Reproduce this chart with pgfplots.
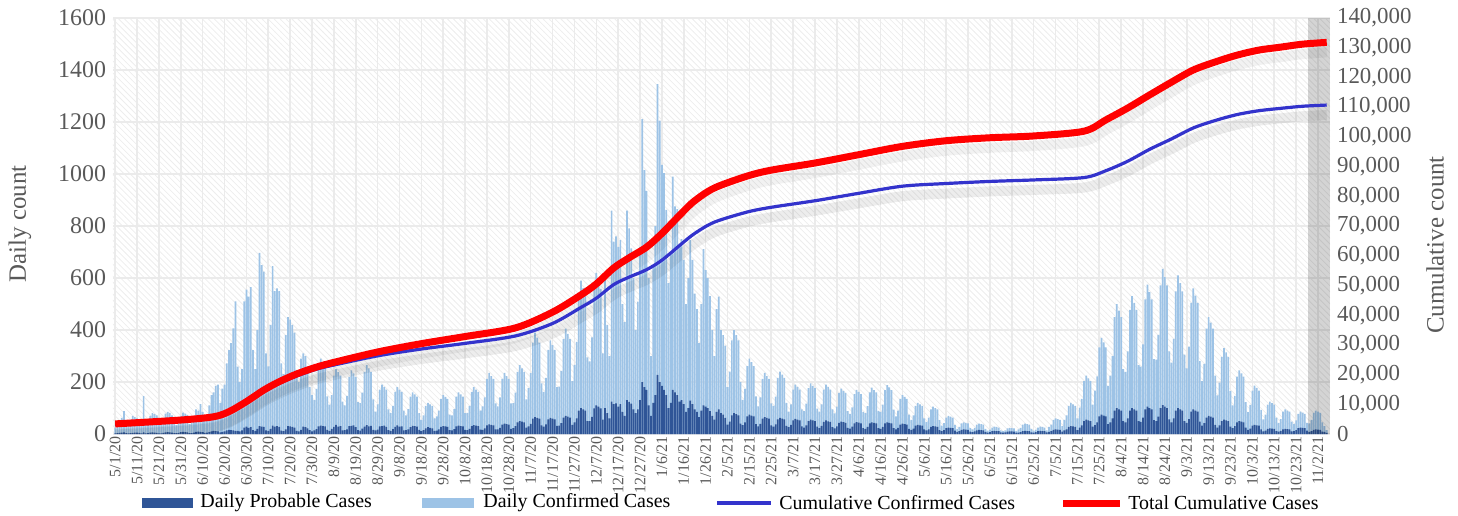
\documentclass[border=0pt]{standalone}
\usepackage{pgfplots}
\pgfplotsset{compat=1.18}
\usepackage{pgfplotstable}
\usetikzlibrary{patterns}
\usepackage{fontspec}
\setmainfont{Liberation Serif}
\definecolor{lightbar}{HTML}{9DC3E6}
\definecolor{darkbar}{HTML}{2F5597}
\definecolor{blueline}{HTML}{3333CC}
\definecolor{redline}{HTML}{FF0000}
\definecolor{tickgray}{HTML}{595959}
\definecolor{gridc}{HTML}{EBEBEB}

\pgfplotstableread[row sep=\\]{c p\\
25 2\\ 40 3\\ 50 4\\ 62 5\\ 88 6\\ 45 3\\ 35 2\\
55 3\\ 70 4\\ 65 5\\ 60 5\\ 50 4\\ 35 2\\ 146 6\\
35 2\\ 50 3\\ 70 5\\ 80 6\\ 76 5\\ 72 4\\ 40 2\\
36 2\\ 55 4\\ 78 6\\ 85 7\\ 81 6\\ 72 5\\ 40 3\\
34 3\\ 50 4\\ 70 7\\ 82 8\\ 78 7\\ 74 6\\ 38 3\\
45 3\\ 60 5\\ 95 8\\ 90 9\\ 115 8\\ 85 7\\ 50 4\\
70 5\\ 110 7\\ 150 10\\ 160 12\\ 185 11\\ 190 10\\ 120 6\\
175 8\\ 190 10\\ 272 14\\ 323 16\\ 350 15\\ 406 14\\ 510 12\\
259 12\\ 200 10\\ 250 14\\ 510 25\\ 555 28\\ 528 24\\ 565 26\\
323 15\\ 250 12\\ 400 20\\ 697 30\\ 650 28\\ 625 27\\ 310 14\\
260 12\\ 420 20\\ 646 32\\ 550 28\\ 560 30\\ 550 27\\ 272 13\\
230 11\\ 380 18\\ 450 30\\ 440 29\\ 420 27\\ 390 25\\ 246 12\\
200 10\\ 290 16\\ 310 28\\ 300 26\\ 260 22\\ 180 15\\ 150 10\\
130 14\\ 174 19\\ 261 29\\ 290 32\\ 276 30\\ 261 29\\ 145 16\\
113 12\\ 150 20\\ 225 27\\ 250 35\\ 238 28\\ 225 30\\ 125 14\\
110 15\\ 147 18\\ 220 30\\ 245 31\\ 233 33\\ 220 26\\ 123 15\\
119 13\\ 159 21\\ 239 28\\ 265 34\\ 252 29\\ 239 31\\ 133 16\\
86 14\\ 114 17\\ 171 29\\ 190 30\\ 181 32\\ 171 27\\ 95 15\\
81 12\\ 108 19\\ 162 27\\ 180 33\\ 171 28\\ 162 29\\ 90 14\\
72 15\\ 96 18\\ 144 26\\ 160 31\\ 152 30\\ 144 28\\ 80 16\\
54 11\\ 72 15\\ 108 22\\ 120 26\\ 114 24\\ 108 22\\ 60 12\\
68 13\\ 90 18\\ 135 27\\ 150 30\\ 143 29\\ 135 27\\ 75 15\\
72 14\\ 96 19\\ 144 29\\ 160 32\\ 152 30\\ 144 29\\ 80 16\\
81 15\\ 108 20\\ 162 30\\ 180 34\\ 171 32\\ 162 30\\ 90 17\\
106 16\\ 141 22\\ 212 33\\ 235 37\\ 223 35\\ 212 33\\ 118 18\\
106 18\\ 141 24\\ 212 36\\ 235 40\\ 223 38\\ 212 36\\ 118 20\\
119 23\\ 159 30\\ 239 45\\ 265 50\\ 252 48\\ 239 45\\ 133 25\\
176 29\\ 234 39\\ 351 59\\ 390 65\\ 371 62\\ 351 59\\ 195 33\\
162 28\\ 216 37\\ 324 56\\ 360 62\\ 342 59\\ 324 56\\ 180 31\\
182 32\\ 243 42\\ 365 63\\ 405 70\\ 385 67\\ 365 63\\ 203 35\\
266 45\\ 354 60\\ 531 90\\ 590 100\\ 561 95\\ 531 90\\ 295 50\\
279 50\\ 372 66\\ 558 99\\ 620 110\\ 589 105\\ 558 99\\ 310 55\\
605 100\\ 420 80\\ 300 60\\ 859 125\\ 740 115\\ 760 118\\ 720 105\\
746 115\\ 500 85\\ 430 70\\ 859 130\\ 791 124\\ 714 117\\ 600 95\\
400 80\\ 509 95\\ 720 130\\ 1211 200\\ 1015 180\\ 935 170\\ 600 110\\
300 70\\ 650 120\\ 800 150\\ 1346 227\\ 1205 200\\ 1035 185\\ 1003 170\\
862 150\\ 580 100\\ 700 120\\ 990 170\\ 875 160\\ 865 150\\ 720 125\\
750 130\\ 670 115\\ 500 85\\ 600 100\\ 746 128\\ 670 115\\ 540 95\\
480 85\\ 350 65\\ 500 90\\ 711 110\\ 630 105\\ 600 100\\ 530 88\\
400 70\\ 300 55\\ 480 85\\ 528 95\\ 400 80\\ 380 75\\ 340 62\\
180 36\\ 240 48\\ 360 72\\ 400 80\\ 380 76\\ 360 72\\ 200 40\\
131 34\\ 174 45\\ 261 68\\ 290 75\\ 276 71\\ 261 68\\ 145 38\\
106 29\\ 141 39\\ 212 59\\ 235 65\\ 223 62\\ 212 59\\ 118 33\\
108 28\\ 144 37\\ 216 56\\ 240 62\\ 228 59\\ 216 56\\ 120 31\\
86 26\\ 114 35\\ 171 52\\ 190 58\\ 181 55\\ 171 52\\ 95 29\\
88 25\\ 117 33\\ 176 50\\ 195 55\\ 185 52\\ 176 50\\ 98 28\\
86 23\\ 114 31\\ 171 47\\ 190 52\\ 181 49\\ 171 47\\ 95 26\\
79 22\\ 105 29\\ 158 43\\ 175 48\\ 166 46\\ 158 43\\ 88 24\\
77 21\\ 102 28\\ 153 41\\ 170 46\\ 162 44\\ 153 41\\ 85 23\\
80 20\\ 107 27\\ 160 41\\ 178 45\\ 169 43\\ 160 41\\ 89 23\\
85 20\\ 113 27\\ 169 41\\ 188 45\\ 179 43\\ 169 41\\ 94 23\\
68 18\\ 90 24\\ 135 36\\ 150 40\\ 143 38\\ 135 36\\ 75 20\\
54 16\\ 72 21\\ 108 32\\ 120 35\\ 114 33\\ 108 32\\ 60 18\\
47 14\\ 63 18\\ 95 27\\ 105 30\\ 100 29\\ 95 27\\ 53 15\\
32 11\\ 42 15\\ 63 23\\ 70 25\\ 67 24\\ 63 23\\ 35 13\\
20 8\\ 27 11\\ 41 16\\ 45 18\\ 43 17\\ 41 16\\ 23 9\\
18 7\\ 24 10\\ 36 14\\ 40 16\\ 38 15\\ 36 14\\ 20 8\\
13 5\\ 17 7\\ 25 11\\ 28 12\\ 27 11\\ 25 11\\ 14 6\\
11 5\\ 14 6\\ 22 9\\ 24 10\\ 23 10\\ 22 9\\ 12 5\\
18 5\\ 24 7\\ 36 11\\ 40 12\\ 38 11\\ 36 11\\ 20 6\\
13 5\\ 17 7\\ 25 11\\ 28 12\\ 27 11\\ 25 11\\ 14 6\\
27 8\\ 36 11\\ 54 16\\ 60 18\\ 57 17\\ 54 16\\ 30 9\\
54 14\\ 72 18\\ 108 27\\ 120 30\\ 114 29\\ 108 27\\ 60 15\\
101 25\\ 135 33\\ 203 50\\ 225 55\\ 214 52\\ 203 50\\ 113 28\\
167 34\\ 222 45\\ 333 68\\ 370 75\\ 352 71\\ 333 68\\ 185 38\\
225 45\\ 300 60\\ 450 90\\ 500 100\\ 475 95\\ 450 90\\ 250 50\\
239 45\\ 318 60\\ 477 90\\ 530 100\\ 504 95\\ 477 90\\ 265 50\\
259 47\\ 345 63\\ 518 95\\ 575 105\\ 546 100\\ 518 95\\ 288 53\\
286 50\\ 381 67\\ 572 100\\ 635 111\\ 603 105\\ 572 100\\ 318 56\\
275 45\\ 366 60\\ 549 90\\ 610 100\\ 580 95\\ 549 90\\ 305 50\\
252 43\\ 336 57\\ 504 86\\ 560 95\\ 532 90\\ 504 86\\ 280 48\\
203 32\\ 270 42\\ 405 63\\ 450 70\\ 428 67\\ 405 63\\ 225 35\\
149 25\\ 198 33\\ 297 50\\ 330 55\\ 314 52\\ 297 50\\ 165 28\\
110 23\\ 147 30\\ 221 45\\ 245 50\\ 233 48\\ 221 45\\ 123 25\\
84 16\\ 112 21\\ 167 32\\ 186 35\\ 177 33\\ 167 32\\ 93 18\\
56 10\\ 75 13\\ 113 20\\ 125 22\\ 119 21\\ 113 20\\ 63 11\\
43 9\\ 57 12\\ 86 18\\ 95 20\\ 90 19\\ 86 18\\ 48 10\\
39 11\\ 52 15\\ 77 23\\ 86 25\\ 82 24\\ 77 23\\ 43 13\\
41 8\\ 54 11\\ 81 16\\ 90 18\\ 86 17\\ 81 16\\ 45 9\\
30 8\\ 15 4\\
}\daily

\pgfplotstableread[row sep=\\]{d red blue\\
0 3400 3100\\ 30 4700 4400\\ 45 5800 5500\\ 52 7500 7200\\ 60 10900 10500\\
68 14800 14300\\ 75 17600 17000\\ 83 20200 19500\\ 92 22500 21800\\ 100 24100 23200\\
120 27600 26300\\ 140 30400 28600\\ 160 32800 30500\\ 183 35700 33000\\ 200 41000 37200\\
213 46800 42600\\ 220 50500 45700\\ 228 55900 50300\\ 235 59300 52800\\ 243 62900 55300\\
250 67500 58500\\ 259 74300 64000\\ 265 78500 67500\\ 274 82800 71300\\ 289 86800 74700\\
300 88800 76300\\ 320 91200 78500\\ 340 94000 81000\\ 360 96800 83400\\ 380 98700 84300\\
400 99700 85000\\ 420 100300 85500\\ 443 101900 86300\\ 453 105700 88600\\ 463 109700 91800\\
473 114100 95800\\ 483 118400 99300\\ 493 122500 103000\\ 503 125200 105500\\ 513 127500 107500\\
523 129200 108800\\ 533 130200 109600\\ 543 131200 110300\\ 554 131800 110700\\
}\cumul

\begin{document}
\begin{tikzpicture}
\pgfplotsset{
  every axis/.append style={
    scale only axis, width=608.5bp, height=208bp,
    xmin=-1, xmax=555.5,
    axis line style={draw=none}, tick style={draw=none},
    /pgf/number format/assume math mode=true,
    /pgf/number format/fixed,
  },
}
\begin{axis}[
  ymin=0, ymax=1600,
  xtick={0,10,...,550},
  xticklabels={5/1/20,5/11/20,5/21/20,5/31/20,6/10/20,6/20/20,6/30/20,7/10/20,7/20/20,7/30/20,8/9/20,8/19/20,8/29/20,9/8/20,9/18/20,9/28/20,10/8/20,10/18/20,10/28/20,11/7/20,11/17/20,11/27/20,12/7/20,12/17/20,12/27/20,1/6/21,1/16/21,1/26/21,2/5/21,2/15/21,2/25/21,3/7/21,3/17/21,3/27/21,4/6/21,4/16/21,4/26/21,5/6/21,5/16/21,5/26/21,6/5/21,6/15/21,6/25/21,7/5/21,7/15/21,7/25/21,8/4/21,8/14/21,8/24/21,9/3/21,9/13/21,9/23/21,10/3/21,10/13/21,10/23/21,11/2/21},
  xticklabel style={rotate=90, anchor=east, font=\fontsize{8}{8}\selectfont, text=tickgray, inner sep=1bp},
  ytick={0,200,400,600,800,1000,1200,1400,1600},
  yticklabel style={font=\fontsize{12}{12}\selectfont, text=tickgray},
  /pgf/number format/1000 sep={},
  grid=major, major grid style={draw=gridc, line width=0.8bp},
  axis background/.style={pattern=north west lines, pattern color=black!7},
]
\addplot[ybar, bar width=0.78, bar shift=0pt, fill=lightbar, draw=none] table[x expr=\coordindex, y=c]{\daily};
\addplot[ybar, bar width=0.78, bar shift=0pt, fill=darkbar, draw=none] table[x expr=\coordindex, y=p]{\daily};
\fill[black, opacity=0.17] (axis cs:545.5,0) rectangle (axis cs:555.5,1600);
\coordinate (bl) at (rel axis cs:0,0);
\coordinate (tr) at (rel axis cs:1,1);
\coordinate (lm) at (rel axis cs:0,0.5);
\coordinate (rm) at (rel axis cs:1,0.5);
\end{axis}
\begin{axis}[
  ymin=0, ymax=140000,
  axis x line=none, axis y line*=right,
  ytick={0,10000,20000,30000,40000,50000,60000,70000,80000,90000,100000,110000,120000,130000,140000},
  scaled y ticks=false,
  /pgf/number format/1000 sep={,},
  yticklabel style={font=\fontsize{11.5}{11.5}\selectfont, text=tickgray},
]
\addplot[draw=black, opacity=0.07, line width=5bp, smooth, transform canvas={yshift=-5bp}] table[x=d, y=blue]{\cumul};
\addplot[draw=black, opacity=0.05, line width=5bp, smooth, transform canvas={yshift=-5bp}] table[x=d, y=red]{\cumul};
\addplot[draw=blueline, line width=1.6bp, smooth] table[x=d, y=blue]{\cumul};
\addplot[draw=redline, line width=3.5bp, smooth] table[x=d, y=red]{\cumul};
\end{axis}
\node[rotate=90, font=\fontsize{12.5}{12.5}\selectfont, text=tickgray] at ([xshift=-46.5bp,yshift=1bp]lm) {Daily count};
\node[rotate=90, font=\fontsize{12.5}{12.5}\selectfont, text=tickgray] at ([xshift=52.5bp,yshift=-9.5bp]rm) {Cumulative count};
% legend
\begin{scope}[shift={(bl)}]
\fill[darkbar] (14.5bp,-37bp) rectangle (40bp,-32bp);
\node[anchor=west, inner sep=0pt, font=\fontsize{10}{10}\selectfont] at (43.5bp,-34.5bp) {Daily Probable Cases};
\fill[lightbar] (154.5bp,-37bp) rectangle (180.5bp,-32bp);
\node[anchor=west, inner sep=0pt, font=\fontsize{10}{10}\selectfont] at (185bp,-34.5bp) {Daily Confirmed Cases};
\draw[blueline, line width=1.6bp] (302bp,-34.5bp) -- (329bp,-34.5bp);
\node[anchor=west, inner sep=0pt, font=\fontsize{10}{10}\selectfont] at (333bp,-34.5bp) {Cumulative Confirmed Cases};
\draw[redline, line width=3.5bp] (475bp,-34.5bp) -- (503.5bp,-34.5bp);
\node[anchor=west, inner sep=0pt, font=\fontsize{10}{10}\selectfont] at (507.5bp,-34.5bp) {Total Cumulative Cases};
\end{scope}
\pgfresetboundingbox
\path[use as bounding box] ([shift={(-56.5bp,-41bp)}]bl) rectangle ([shift={(64bp,9bp)}]tr);
\end{tikzpicture}
\end{document}
